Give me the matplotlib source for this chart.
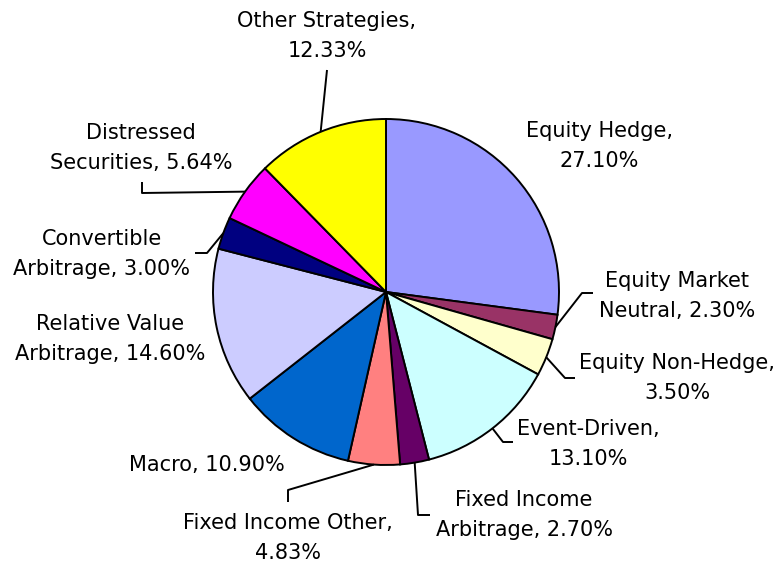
import matplotlib
matplotlib.use("Agg")
import matplotlib.pyplot as plt
import numpy as np

categories = ["Equity Hedge", "Equity Market Neutral", "Equity Non-Hedge",
              "Event-Driven", "Fixed Income Arbitrage", "Fixed Income Other",
              "Macro", "Relative Value Arbitrage", "Convertible Arbitrage",
              "Distressed Securities", "Other Strategies"]
values = [27.10, 2.30, 3.50, 13.10, 2.70, 4.83, 10.90, 14.60, 3.00, 5.64, 12.33]
colors = ["#9999FF", "#993366", "#FFFFCC", "#CCFFFF", "#660066", "#FF8080",
          "#0066CC", "#CCCCFF", "#000080", "#FF00FF", "#FFFF00"]
label_templates = ["Equity Hedge,\n{v}", "Equity Market\nNeutral, {v}",
                   "Equity Non-Hedge,\n{v}", "Event-Driven,\n{v}",
                   "Fixed Income\nArbitrage, {v}", "Fixed Income Other,\n{v}",
                   "Macro, {v}", "Relative Value\nArbitrage, {v}",
                   "Convertible\nArbitrage, {v}", "Distressed\nSecurities, {v}",
                   "Other Strategies,\n{v}"]

W, H = 779, 567
CX, CY, R = 386, 292, 173


def P(px, py):
    return ((px - CX) / R, (CY - py) / R)


# label centres (pixel layout)
label_pos = [(599, 146), (677, 296), (677, 378), (588, 444), (524, 515),
             (288, 538), (207, 465), (110, 339), (102, 254), (141, 148),
             (327, 36)]
# leader bend points (pixel layout), None = no leader
leaders = [None,
           [(582, 293), (593, 293)],
           [(565, 378), (575, 378)],
           [(503, 442), (513, 442)],
           [(418, 515), (430, 515)],
           [(288, 490), (288, 502)],
           None,
           None,
           [(207, 253), (195, 253)],
           [(142, 193), (142, 182)],
           [(327, 70)]]

fig = plt.figure(figsize=(W / 100, H / 100), dpi=100)
ax = fig.add_axes([0, 0, 1, 1])
wedges, _ = ax.pie(values, colors=colors, startangle=90, counterclock=False,
                   radius=1, center=(0, 0),
                   wedgeprops=dict(edgecolor="black", linewidth=1.4))
ax.set_xlim(-CX / R, (W - CX) / R)
ax.set_ylim(-(H - CY) / R, CY / R)
ax.set_aspect("equal")
ax.axis("off")

total = sum(values)
cum = 0.0
for i, v in enumerate(values):
    mid = cum + v / 2
    cum += v
    ang = np.deg2rad(90 - 360 * mid / total)
    sx, sy = np.cos(ang), np.sin(ang)
    if leaders[i] is not None:
        pts = [(sx, sy)] + [P(*p) for p in leaders[i]]
        xs, ys = zip(*pts)
        ax.plot(xs, ys, color="black", lw=1.4, solid_capstyle="butt")
    tx, ty = P(*label_pos[i])
    ax.text(tx, ty, label_templates[i].format(v=f"{v:.2f}%"),
            ha="center", va="center", fontsize=15, family="DejaVu Sans",
            linespacing=1.65, color="black")

fig.savefig("out.png", dpi=100)
